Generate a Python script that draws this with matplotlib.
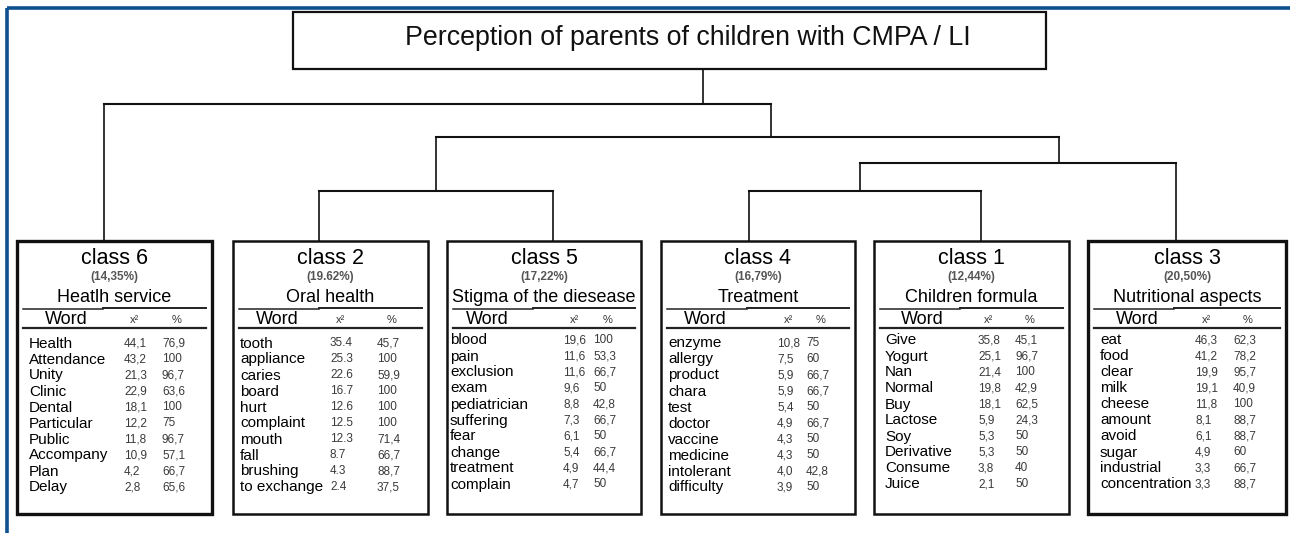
import matplotlib.pyplot as plt
from matplotlib.patches import Rectangle

plt.rcParams['font.family'] = ['Liberation Sans', 'DejaVu Sans']

# ---- data ----
title = "Perception of parents of children with CMPA / LI"

class_labels = ["class 6", "class 2", "class 5", "class 4", "class 1", "class 3"]
class_shares = ["(14,35%)", "(19.62%)", "(17,22%)", "(16,79%)", "(12,44%)", "(20,50%)"]
class_names = ["Heatlh service", "Oral health", "Stigma of the diesease",
               "Treatment", "Children formula", "Nutritional aspects"]

words6 = ["Health", "Attendance", "Unity", "Clinic", "Dental", "Particular",
          "Public", "Accompany", "Plan", "Delay"]
chi6 = ["44,1", "43,2", "21,3", "22,9", "18,1", "12,2", "11,8", "10,9", "4,2", "2,8"]
pct6 = ["76,9", "100", "96,7", "63,6", "100", "75", "96,7", "57,1", "66,7", "65,6"]

words2 = ["tooth", "appliance", "caries", "board", "hurt", "complaint", "mouth",
          "fall", "brushing", "to exchange"]
chi2_ = ["35.4", "25.3", "22.6", "16.7", "12.6", "12.5", "12.3", "8.7", "4.3", "2.4"]
pct2 = ["45,7", "100", "59,9", "100", "100", "100", "71,4", "66,7", "88,7", "37,5"]

words5 = ["blood", "pain", "exclusion", "exam", "pediatrician", "suffering",
          "fear", "change", "treatment", "complain"]
chi5 = ["19,6", "11,6", "11,6", "9,6", "8,8", "7,3", "6,1", "5,4", "4,9", "4,7"]
pct5 = ["100", "53,3", "66,7", "50", "42,8", "66,7", "50", "66,7", "44,4", "50"]

words4 = ["enzyme", "allergy", "product", "chara", "test", "doctor", "vaccine",
          "medicine", "intolerant", "difficulty"]
chi4 = ["10,8", "7,5", "5,9", "5,9", "5,4", "4,9", "4,3", "4,3", "4,0", "3,9"]
pct4 = ["75", "60", "66,7", "66,7", "50", "66,7", "50", "50", "42,8", "50"]

words1 = ["Give", "Yogurt", "Nan", "Normal", "Buy", "Lactose", "Soy",
          "Derivative", "Consume", "Juice"]
chi1 = ["35,8", "25,1", "21,4", "19,8", "18,1", "5,9", "5,3", "5,3", "3,8", "2,1"]
pct1 = ["45,1", "96,7", "100", "42,9", "62,5", "24,3", "50", "50", "40", "50"]

words3 = ["eat", "food", "clear", "milk", "cheese", "amount", "avoid", "sugar",
          "industrial", "concentration"]
chi3 = ["46,3", "41,2", "19,9", "19,1", "11,8", "8,1", "6,1", "4,9", "3,3", "3,3"]
pct3 = ["62,3", "78,2", "95,7", "40,9", "100", "88,7", "88,7", "60", "66,7", "88,7"]

all_words = [words6, words2, words5, words4, words1, words3]
all_chi = [chi6, chi2_, chi5, chi4, chi1, chi3]
all_pct = [pct6, pct2, pct5, pct4, pct1, pct3]

# ---- layout (pixel coordinates) ----
box_left = [17, 233, 447, 661, 874, 1088]
box_right = [212, 428, 641, 855, 1069, 1286]
box_top, box_bot = 241, 514
word_x = [29, 240, 450, 668, 885, 1100]
chi_x = [124, 330, 563, 777, 978, 1195]
pct_x = [162, 377, 593, 806, 1015, 1233]
row0 = [342, 342, 339, 342, 339, 339]
row_step = 16
box_lw = [2.4, 1.8, 1.8, 1.8, 1.8, 2.4]

# dendrogram: leaf connector x, then merges (left, right, new, join y, new x)
node_x = {"c6": 104, "c2": 319, "c5": 553, "c4": 749, "c1": 981, "c3": 1176}
node_y = {k: box_top for k in node_x}
merges = [("c2", "c5", "A", 191, 436),
          ("c4", "c1", "B", 191, 860),
          ("B", "c3", "C", 163, 1059),
          ("A", "C", "D", 137, 771),
          ("c6", "D", "E", 104, 703)]

fig = plt.figure(figsize=(12.9, 5.33), dpi=100)
ax = fig.add_axes([0, 0, 1, 1])
ax.set_xlim(0, 1290)
ax.set_ylim(533, 0)
ax.axis('off')

# blue frame
blue = '#0d4f8f'
ax.plot([7, 1290], [8, 8], color=blue, lw=2.6, solid_capstyle='butt')
ax.plot([7, 7], [8, 533], color=blue, lw=2.6, solid_capstyle='butt')

# title box
ax.add_patch(Rectangle((293, 12), 753, 57, fill=False, ec='#111111', lw=1.6))
ax.text(688, 45, title, ha='center', va='baseline', fontsize=19.3, color='#111111')

lc = '#111111'
for a, b, new, y, x in merges:
    for ch in (a, b):
        ax.plot([node_x[ch], node_x[ch]], [node_y[ch], y], color=lc, lw=1.2)
    ax.plot([node_x[a], node_x[b]], [y, y], color=lc, lw=1.5)
    node_x[new] = x
    node_y[new] = y
ax.plot([node_x["E"], node_x["E"]], [69, node_y["E"]], color=lc, lw=1.2)

for i in range(6):
    bx, br = box_left[i], box_right[i]
    cx = (bx + br) / 2
    ax.add_patch(Rectangle((bx, box_top), br - bx, box_bot - box_top,
                           fill=False, ec='#111111', lw=box_lw[i]))
    ax.text(cx, 264, class_labels[i], ha='center', va='baseline', fontsize=15.5)
    ax.text(cx, 277, class_shares[i], ha='center', va='center', fontsize=8.5,
            fontweight='bold', color='#555555')
    ax.text(cx, 302.5, class_names[i], ha='center', va='baseline', fontsize=13)
    # table header rules
    ax.plot([bx + 6, bx + 86], [309, 309], color='#222222', lw=1.1)
    ax.plot([bx + 86, br - 6], [308, 308], color='#222222', lw=1.4)
    ax.plot([bx + 6, br - 6], [328, 328], color='#222222', lw=1.6)
    ax.text(word_x[i] + 37, 323.5, "Word", ha='center', va='baseline', fontsize=13)
    ax.text(chi_x[i] + 11, 323, "x²", ha='center', va='baseline',
            fontsize=8, color='#333333')
    ax.text(pct_x[i] + 15, 323, "%", ha='center', va='baseline',
            fontsize=8, color='#333333')
    for j, w in enumerate(all_words[i]):
        y = row0[i] + j * row_step
        ax.text(word_x[i], y + 5.5, w, ha='left', va='baseline', fontsize=11)
        ax.text(chi_x[i], y + 4.3, all_chi[i][j], ha='left', va='baseline',
                fontsize=8.5, color='#3a3a3a')
        ax.text(pct_x[i], y + 4.3, all_pct[i][j], ha='left', va='baseline',
                fontsize=8.5, color='#3a3a3a')

fig.savefig('out.png', dpi=100)
